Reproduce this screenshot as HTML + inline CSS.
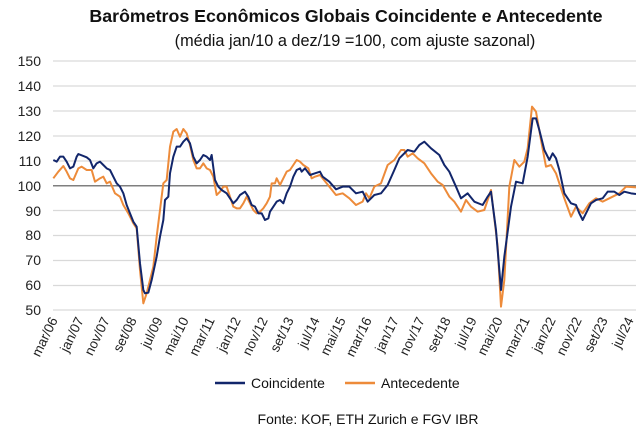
<!DOCTYPE html>
<html><head><meta charset="utf-8"><style>
html,body{margin:0;padding:0;background:#fff;}
svg{display:block;font-family:"Liberation Sans",sans-serif;}
</style></head><body>
<svg width="636" height="446" viewBox="0 0 636 446">
<text x="346" y="22" text-anchor="middle" font-size="17.8" font-weight="bold" fill="#111">Barômetros Econômicos Globais Coincidente e Antecedente</text>
<text x="355" y="46" text-anchor="middle" font-size="16.3" fill="#111">(média jan/10 a dez/19 =100, com ajuste sazonal)</text>
<g stroke="#d9d9d9" stroke-width="1.2">
<line x1="53" x2="636" y1="61" y2="61"/><line x1="53" x2="636" y1="86" y2="86"/><line x1="53" x2="636" y1="111" y2="111"/><line x1="53" x2="636" y1="136" y2="136"/><line x1="53" x2="636" y1="161" y2="161"/><line x1="53" x2="636" y1="210.5" y2="210.5"/><line x1="53" x2="636" y1="235.5" y2="235.5"/><line x1="53" x2="636" y1="260.5" y2="260.5"/><line x1="53" x2="636" y1="285.5" y2="285.5"/><line x1="53" x2="636" y1="310" y2="310"/>
</g>
<line x1="53" x2="636" y1="185.7" y2="185.7" stroke="#7f7f7f" stroke-width="1.5"/>
<g font-size="14" fill="#222" text-anchor="end">
<text x="41" y="66">150</text><text x="41" y="91">140</text><text x="41" y="116">130</text><text x="41" y="141">120</text><text x="41" y="166">110</text><text x="41" y="191">100</text><text x="41" y="216">90</text><text x="41" y="240">80</text><text x="41" y="265">70</text><text x="41" y="290">60</text><text x="41" y="315">50</text>
</g>
<g font-size="13.5" fill="#222" text-anchor="end">
<text transform="translate(58,320) rotate(-64)">mar/06</text>
<text transform="translate(84,320) rotate(-64)">jan/07</text>
<text transform="translate(110,320) rotate(-64)">nov/07</text>
<text transform="translate(137,320) rotate(-64)">set/08</text>
<text transform="translate(163,320) rotate(-64)">jul/09</text>
<text transform="translate(189,320) rotate(-64)">mai/10</text>
<text transform="translate(215,320) rotate(-64)">mar/11</text>
<text transform="translate(241,320) rotate(-64)">jan/12</text>
<text transform="translate(268,320) rotate(-64)">nov/12</text>
<text transform="translate(294,320) rotate(-64)">set/13</text>
<text transform="translate(320,320) rotate(-64)">jul/14</text>
<text transform="translate(346,320) rotate(-64)">mai/15</text>
<text transform="translate(372,320) rotate(-64)">mar/16</text>
<text transform="translate(399,320) rotate(-64)">jan/17</text>
<text transform="translate(425,320) rotate(-64)">nov/17</text>
<text transform="translate(451,320) rotate(-64)">set/18</text>
<text transform="translate(477,320) rotate(-64)">jul/19</text>
<text transform="translate(503,320) rotate(-64)">mai/20</text>
<text transform="translate(530,320) rotate(-64)">mar/21</text>
<text transform="translate(556,320) rotate(-64)">jan/22</text>
<text transform="translate(582,320) rotate(-64)">nov/22</text>
<text transform="translate(608,320) rotate(-64)">set/23</text>
<text transform="translate(634,320) rotate(-64)">jul/24</text>
</g>
<g transform="translate(0,50) scale(0.33333)" fill="none" stroke-width="6" stroke-linejoin="round">
<polyline stroke="#ed8b3a" points="160,385 175,365 190,348 200,365 210,385 220,390 235,355 245,350 260,360 275,360 285,395 300,385 310,380 320,400 330,395 345,430 360,440 370,465 385,490 400,520 410,535 420,660 430,760 440,730 450,690 460,650 470,560 480,480 490,400 500,390 510,290 520,245 530,237 540,260 550,237 560,250 570,285 580,330 590,355 600,355 610,340 620,355 630,360 640,380 650,435 660,425 670,410 680,410 690,440 700,470 710,475 720,475 730,460 740,440 750,460 760,480 770,490 780,485 790,475 800,460 810,440 815,400 825,400 830,385 840,405 850,385 860,365 870,360 880,345 890,330 900,335 910,345 925,355 935,385 945,380 960,375 968,385 988,410 1008,435 1028,430 1048,445 1068,465 1088,455 1098,430 1108,445 1123,410 1143,400 1163,345 1183,330 1203,300 1213,300 1223,320 1238,310 1253,325 1273,340 1293,370 1313,395 1328,405 1348,440 1363,455 1383,485 1398,450 1413,470 1433,485 1453,480 1473,420 1493,590 1503,770 1513,690 1528,410 1543,330 1558,350 1573,335 1583,295 1596,170 1608,185 1623,270 1638,350 1653,345 1668,370 1693,445 1713,500 1728,470 1748,490 1768,460 1788,445 1808,455 1828,445 1858,430 1878,410 1908,412"/>
<polyline stroke="#12266b" points="160,330 170,335 180,320 190,320 200,335 210,355 220,350 230,320 235,312 260,322 270,330 280,355 290,340 300,335 310,345 320,355 330,360 340,380 350,400 360,410 370,430 380,465 390,490 400,515 410,530 420,640 430,720 435,730 445,728 455,690 470,620 480,560 490,510 495,450 505,440 510,370 520,320 530,290 540,290 550,275 560,265 570,280 580,320 590,340 600,330 610,315 620,320 630,330 635,315 645,390 655,410 665,420 680,430 690,445 700,460 710,450 720,435 735,425 745,440 755,465 765,470 775,490 785,490 795,510 805,505 810,485 820,470 830,455 840,450 850,460 860,430 870,410 880,380 890,360 900,355 905,365 915,355 930,375 945,370 960,365 968,380 988,395 1008,418 1028,410 1048,410 1068,430 1088,425 1103,455 1123,435 1143,430 1163,405 1183,360 1198,325 1223,300 1243,305 1258,285 1273,275 1293,295 1318,315 1333,345 1348,365 1368,410 1383,445 1403,430 1423,455 1448,465 1463,440 1473,425 1488,540 1503,720 1513,620 1533,470 1548,395 1568,400 1583,320 1598,205 1608,205 1618,240 1633,300 1648,330 1658,310 1668,325 1678,360 1693,430 1713,460 1728,465 1738,490 1748,510 1758,490 1773,460 1788,450 1808,445 1823,425 1843,425 1858,435 1873,425 1893,430 1908,432"/>
</g>
<line x1="215" x2="245" y1="383" y2="383" stroke="#12266b" stroke-width="2.5"/>
<text x="251" y="388" font-size="14" fill="#111">Coincidente</text>
<line x1="345" x2="375" y1="383" y2="383" stroke="#ed8b3a" stroke-width="2.5"/>
<text x="381" y="388" font-size="14" fill="#111">Antecedente</text>
<text x="368" y="424" text-anchor="middle" font-size="14" fill="#111">Fonte: KOF, ETH Zurich e FGV IBR</text>
</svg>
</body></html>
